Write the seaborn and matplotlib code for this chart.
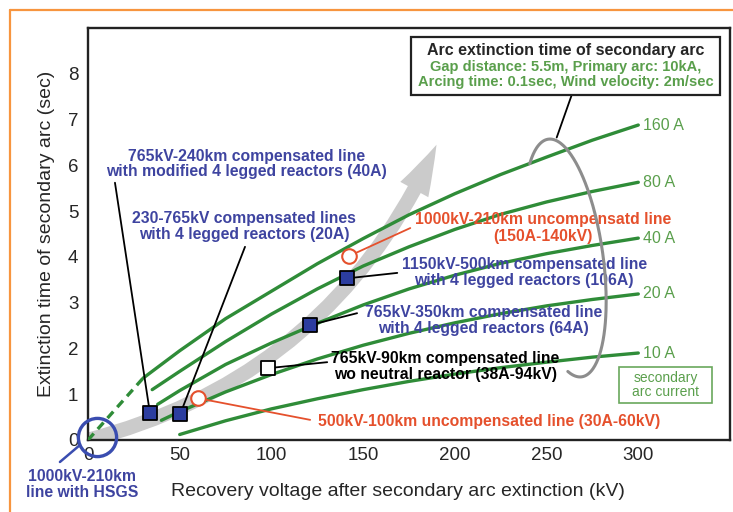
import numpy as np
import pandas as pd
import matplotlib
matplotlib.use("Agg")
import matplotlib.pyplot as plt
import matplotlib.transforms as mtransforms
from matplotlib.patches import Rectangle, FancyArrowPatch, ArrowStyle
from matplotlib.lines import Line2D
import seaborn as sns

# ---- secondary arc current curves: recovery voltage (kV) vs extinction time (s)
currents = ["160 A", "80 A", "40 A", "20 A", "10 A"]
v_160 = [30, 50, 75, 100, 125, 150, 175, 200, 225, 250, 275, 300]
t_160 = [1.35, 1.95, 2.65, 3.25, 3.85, 4.4, 4.92, 5.38, 5.8, 6.18, 6.55, 6.88]
v_80 = [35, 50, 75, 100, 125, 150, 175, 200, 225, 250, 275, 300]
t_80 = [1.1, 1.5, 2.15, 2.75, 3.3, 3.8, 4.22, 4.6, 4.93, 5.2, 5.43, 5.63]
v_40 = [38, 50, 75, 100, 125, 150, 175, 200, 225, 250, 275, 300]
t_40 = [0.78, 1.08, 1.65, 2.12, 2.55, 2.95, 3.3, 3.6, 3.86, 4.07, 4.25, 4.41]
v_20 = [40, 50, 75, 100, 125, 150, 175, 200, 225, 250, 275, 300]
t_20 = [0.43, 0.62, 1.05, 1.43, 1.77, 2.07, 2.33, 2.56, 2.76, 2.93, 3.07, 3.19]
v_10 = [50, 75, 100, 125, 150, 175, 200, 225, 250, 275, 300]
t_10 = [0.12, 0.42, 0.68, 0.9, 1.1, 1.28, 1.44, 1.58, 1.7, 1.81, 1.9]

# extrapolation of the 160 A curve back to the origin
v_ext = [0, 30]
t_ext = [0, 1.35]

# ---- field cases
comp_v = [33.8, 50.2, 121, 141]          # compensated lines, 4 legged reactors
comp_t = [0.58, 0.56, 2.51, 3.53]
noreac_v = [98.4]                        # compensated line without neutral reactor
noreac_t = [1.57]
uncomp_v = [60.2, 142.4]                 # uncompensated lines
uncomp_t = [0.91, 4.02]
hsgs_v = [4.7]                           # line with HSGS
hsgs_t = [0.07]

# trend arrow end point
trend_tip = (190, 6.45)

x_ticks = [0, 50, 100, 150, 200, 250, 300]
y_ticks = [0, 1, 2, 3, 4, 5, 6, 7, 8]

GREEN = "#2f8c38"
GREEN_TXT = "#5a9f4c"
BLUE_TXT = "#3e44a0"
BLUE_SQ = "#2c3d9f"
BLUE_CIRC = "#3a4db0"
RED = "#e5502c"
GRAY = "#cbcbcb"
ORANGE = "#f7953f"

sns.set_style("white")
plt.rcParams["font.family"] = ["Liberation Sans", "DejaVu Sans"]

fig = plt.figure(figsize=(7.33, 5.12), dpi=100)
ax = fig.add_axes([88 / 733, 72 / 512, 642 / 733, 412 / 512])
ax.set_xlim(0, 350)
ax.set_ylim(0, 9)

# figure-pixel transform (origin top-left) for frame decorations
px = mtransforms.Affine2D().scale(1 / 733, -1 / 512).translate(0, 1) + fig.transFigure

# orange page frame
fig.add_artist(Line2D([10, 733], [10, 10], transform=px, color=ORANGE, lw=1.6))
fig.add_artist(Line2D([10, 10], [10, 512], transform=px, color=ORANGE, lw=1.6))

# trend arrow
arrow = FancyArrowPatch((0, 0), trend_tip, connectionstyle="arc3,rad=0.24",
                        arrowstyle=ArrowStyle.Simple(head_length=3.6, head_width=2.3, tail_width=1.05),
                        mutation_scale=10, color=GRAY, lw=0, shrinkA=0, shrinkB=0, zorder=1)
ax.add_patch(arrow)

# curves
curve_v = [v_160, v_80, v_40, v_20, v_10]
curve_t = [t_160, t_80, t_40, t_20, t_10]
df = pd.concat([pd.DataFrame({"voltage": v, "time": t, "current": c})
                for v, t, c in zip(curve_v, curve_t, currents)], ignore_index=True)
sns.lineplot(data=df, x="voltage", y="time", hue="current", units="current", estimator=None,
             palette={c: GREEN for c in currents}, legend=False, lw=2.4, ax=ax, zorder=3)
sns.lineplot(x=v_ext, y=t_ext, color=GREEN, lw=2.4, dashes=False, ax=ax, zorder=3)
ax.lines[-1].set_linestyle((0, (2.6, 1.8)))
for ln in ax.lines:
    ln.set_solid_joinstyle("round")
    ln.set_solid_capstyle("round")

for v, t, c in zip(curve_v, curve_t, currents):
    ax.text(v[-1] + 2.5, t[-1], c, color=GREEN_TXT, fontsize=11.5, ha="left", va="center")

# connector lines
def link(x0, y0, x1, y1, color="black", lw=1.3):
    ax.plot([x0, x1], [y0, y1], color=color, lw=lw, zorder=4, clip_on=False)

link(14.7, 5.62, comp_v[0], comp_t[0])
link(85.6, 4.22, comp_v[1], comp_t[1])
link(175.7, 4.63, uncomp_v[1], uncomp_t[1], RED)
link(comp_v[3], comp_t[3], 168.6, 3.65)
link(comp_v[2], comp_t[2], 146.7, 2.77)
link(noreac_v[0], noreac_t[0], 130.4, 1.70)
link(uncomp_v[0], uncomp_t[0], 121.1, 0.44, RED)
link(-15.3, -0.48, -4.4, -0.11, BLUE_CIRC, 1.8)

# markers
sns.scatterplot(x=comp_v, y=comp_t, marker="s", s=105, color=BLUE_SQ, edgecolor="black",
                linewidth=1.3, ax=ax, zorder=6)
sns.scatterplot(x=noreac_v, y=noreac_t, marker="s", s=105, color="white", edgecolor="black",
                linewidth=1.3, ax=ax, zorder=6)
sns.scatterplot(x=uncomp_v, y=uncomp_t, marker="o", s=110, color="white", edgecolor=RED,
                linewidth=1.5, ax=ax, zorder=6)
ax.plot(hsgs_v, hsgs_t, "o", ms=27.5, mfc="none", mec=BLUE_CIRC, mew=2.4, clip_on=False, zorder=6)

# case annotations
fs = 11.3
kw = dict(fontsize=fs, fontweight="bold", ha="center", va="center", linespacing=1.05, zorder=7)
ax.text(86.5, 6.03, "765kV-240km compensated line\nwith modified 4 legged reactors (40A)",
        color=BLUE_TXT, **kw)
ax.text(85.1, 4.66, "230-765kV compensated lines\nwith 4 legged reactors (20A)", color=BLUE_TXT, **kw)
ax.text(248.2, 4.82, "1000kV-210km uncompensatd line", color=RED, **kw)
ax.text(248.2, 4.44, "(150A-140kV)", color=RED, **kw)
ax.text(237.8, 3.66, "1150kV-500km compensated line\nwith 4 legged reactors (106A)", color=BLUE_TXT, **kw)
ax.text(215.5, 2.61, "765kV-350km compensated line\nwith 4 legged reactors (64A)", color=BLUE_TXT, **kw)
ax.text(194.7, 1.61, "765kV-90km compensated line\nwo neutral reactor (38A-94kV)", color="black", **kw)
ax.text(218.5, 0.415, "500kV-100km uncompensated line (30A-60kV)", color=RED, **kw)
ax.text(-3.3, -0.97, "1000kV-210km\nline with HSGS", color=BLUE_TXT, **kw)

# grouping ellipse around the curve ends with its pointer to the info box
phi = np.deg2rad(np.linspace(-110, 125, 200))
a_px, b_px, rot = 38, 120, np.deg2rad(8)
u, w = a_px * np.cos(phi), b_px * np.sin(phi)
ex = 565 + u * np.cos(rot) - w * np.sin(rot)
ey = 258 - (u * np.sin(rot) + w * np.cos(rot))
fig.add_artist(Line2D(ex, ey, transform=px, color="#8d8d8d", lw=2.2, zorder=5))
fig.add_artist(Line2D([571.7, 556.7], [95, 137.5], transform=px, color="black", lw=1.3, zorder=5))

# info box
box = Rectangle((411, 37), 309, 58, transform=px, fc="white", ec="#222222", lw=1.6, zorder=8)
fig.add_artist(box)
fig.text(565.5 / 733, 1 - 50 / 512, "Arc extinction time of secondary arc", fontsize=11.5,
         fontweight="bold", ha="center", va="center", zorder=9)
fig.text(565.5 / 733, 1 - 66.5 / 512, "Gap distance: 5.5m, Primary arc: 10kA,", fontsize=10.5,
         fontweight="bold", color=GREEN_TXT, ha="center", va="center", zorder=9)
fig.text(565.5 / 733, 1 - 82 / 512, "Arcing time: 0.1sec, Wind velocity: 2m/sec", fontsize=10.5,
         fontweight="bold", color=GREEN_TXT, ha="center", va="center", zorder=9)

# secondary arc current key box
fig.add_artist(Rectangle((619, 367), 93, 36, transform=px, fc="white", ec="#6aa85c", lw=1.2, zorder=8))
fig.text(665.5 / 733, 1 - 385 / 512, "secondary\narc current", fontsize=10, color=GREEN_TXT,
         ha="center", va="center", linespacing=1.0, zorder=9)

# axes styling
ax.set_xticks(x_ticks)
ax.set_yticks(y_ticks)
ax.tick_params(direction="in", length=6, width=1.5, labelsize=13.5, color="#222222")
ax.tick_params(axis="y", pad=7)
ax.tick_params(axis="x", pad=5)
for s in ax.spines.values():
    s.set_linewidth(1.7)
    s.set_color("#222222")
ax.set_xlabel("Recovery voltage after secondary arc extinction (kV)", fontsize=14, labelpad=10)
ax.xaxis.set_label_coords(0.482, -0.105)
ax.set_ylabel("Extinction time of secondary arc (sec)", fontsize=14)
ax.yaxis.set_label_coords(-0.052, 0.5)

fig.savefig("out.png", dpi=100)
